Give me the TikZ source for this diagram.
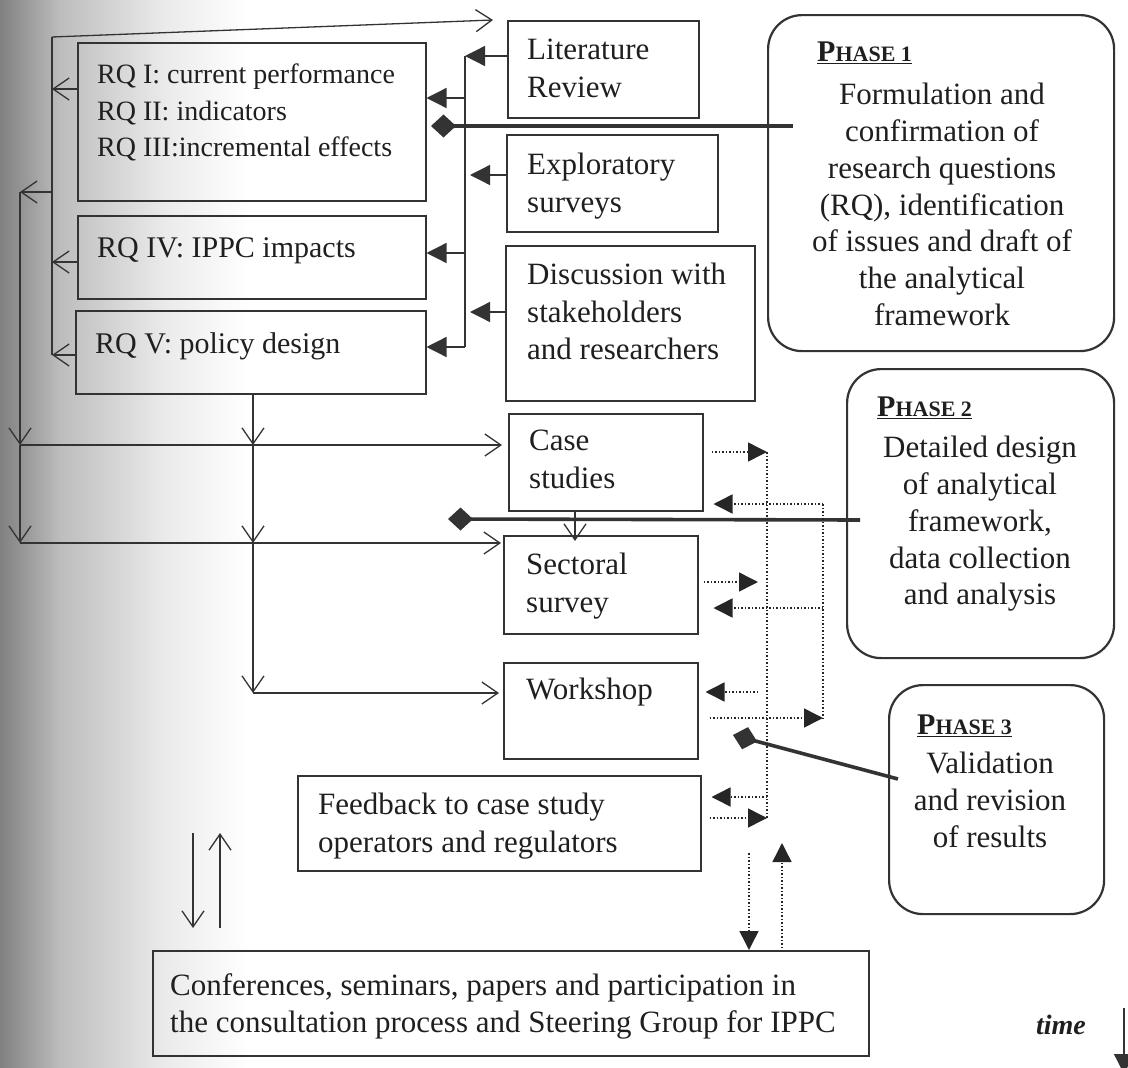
\documentclass[tikz,border=0pt]{standalone}
\usepackage{fontspec}
\setmainfont{Liberation Serif}
\usetikzlibrary{arrows.meta,calc}
\tikzset{
  ln/.style={draw=black!80, line width=1.3pt},
  box/.style={draw=black!80, line width=1.5pt, inner sep=0pt, anchor=north west},
  pbox/.style={box, rounded corners=34pt, line width=2.2pt},
  txt/.style={anchor=north west, inner sep=0pt, align=left, text=black!88, font=\fontsize{31}{37.5}\selectfont},
  ptxt/.style={anchor=north, inner sep=0pt, align=center, text=black!88, font=\fontsize{31}{36.8}\selectfont},
  phead/.style={anchor=north west, inner sep=0pt, text=black!88, font=\bfseries\fontsize{30}{30}\selectfont},
  opn/.style={ln, -{Straight Barb[length=16pt,width=22pt,line width=1.3pt]}},
  fil/.style={ln, -{Triangle[length=20pt,width=20pt]}},
  dot/.style={draw=black!85, line width=1.5pt, dotted},
  dotar/.style={dot, -{Triangle[length=19pt,width=19pt]}},
  phl/.style={draw=black!80, line width=3.6pt, {Diamond[length=25pt,width=23pt]}-}
}
\begin{document}
\begin{tikzpicture}[x=1pt,y=-1pt]
\useasboundingbox (0,0) rectangle (1128,1068);
% scanner shadow on the left
\shade[left color=black!50, right color=black!26] (0,0) rectangle (60,1068);
\shade[left color=black!26, right color=black!8] (59.5,0) rectangle (165,1068);
\shade[left color=black!8, right color=white] (164.5,0) rectangle (250,1068);

% ---------- boxes ----------
\node[box, minimum width=348pt, minimum height=158pt] (rq1) at (77,42) {};
\node[box, minimum width=348pt, minimum height=83pt] (rq4) at (77,215) {};
\node[box, minimum width=350pt, minimum height=83pt] (rq5) at (75,310) {};
\node[box, minimum width=191pt, minimum height=97pt] (lit) at (507,20) {};
\node[box, minimum width=211pt, minimum height=97pt] (expl) at (506,134) {};
\node[box, minimum width=249pt, minimum height=155pt] (disc) at (505,245) {};
\node[box, minimum width=194pt, minimum height=97pt] (case) at (508,413) {};
\node[box, minimum width=194pt, minimum height=98pt] (sect) at (503,535) {};
\node[box, minimum width=194pt, minimum height=96pt] (work) at (503,662) {};
\node[box, minimum width=403pt, minimum height=95pt] (feed) at (297,775) {};
\node[box, minimum width=716pt, minimum height=105pt] (conf) at (152,950) {};
\node[pbox, minimum width=346pt, minimum height=336pt] (ph1) at (767,14) {};
\node[pbox, minimum width=267pt, minimum height=289pt] (ph2) at (846,368) {};
\node[pbox, minimum width=215pt, minimum height=229pt] (ph3) at (888,684) {};

% ---------- texts ----------
\node[txt, font=\fontsize{28}{36.5}\selectfont] (rq1t) at (97,64) {RQ I: current performance\\RQ II: indicators\\RQ III:incremental effects};
\node[txt, font=\fontsize{30}{36}\selectfont] (rq4t) at (97,237) {RQ IV: IPPC impacts};
\node[txt, font=\fontsize{30}{36}\selectfont] (rq5t) at (95,332) {RQ V: policy design};
\node[txt] (litt) at (527,39) {Literature\\Review};
\node[txt] (explt) at (527,153) {Exploratory\\surveys};
\node[txt] (disct) at (527,263) {Discussion with\\stakeholders\\and researchers};
\node[txt] (caset) at (529,430) {Case\\studies};
\node[txt] (sectt) at (526,553) {Sectoral\\survey};
\node[txt] (workt) at (526,678) {Workshop};
\node[txt] (feedt) at (318,793) {Feedback to case study\\operators and regulators};
\node[txt] (conft) at (170,973) {Conferences, seminars, papers and participation in\\the consultation process and Steering Group for IPPC};

\node[phead] (ph1h) at (817,42) {\underline{P{\fontsize{22}{22}\selectfont HASE 1}}};
\node[ptxt] (ph1t) at (942,83) {Formulation and\\confirmation of\\research questions\\(RQ), identification\\of issues and draft of\\the analytical\\framework};
\node[phead] (ph2h) at (877,397) {\underline{P{\fontsize{22}{22}\selectfont HASE 2}}};
\node[ptxt] (ph2t) at (980,436) {Detailed design\\of analytical\\framework,\\data collection\\and analysis};
\node[phead] (ph3h) at (917,715) {\underline{P{\fontsize{22}{22}\selectfont HASE 3}}};
\node[ptxt] (ph3t) at (990,752) {Validation\\and revision\\of results};

\node[anchor=center, inner sep=0pt, text=black!88, font=\bfseries\itshape\fontsize{28}{28}\selectfont] (time) at (1061,1025) {time};

% ---------- left bracket (RQ outputs) ----------
\coordinate (bt) at (52,37);
\coordinate (b1) at (52,89);
\coordinate (b2) at (52,192);
\coordinate (b4) at (52,262);
\coordinate (b5) at (52,355);
\coordinate (ltip) at (493,20);
\draw[ln] (bt) -- (b5);
\draw[opn] (bt) -- (ltip);
\draw[opn] (rq1.west |- b1) -- (b1);
\draw[opn] (rq4.west |- b4) -- (b4);
\draw[opn] (rq5.west |- b5) -- (b5);
\coordinate (l1) at (20,192);
\coordinate (l2) at (20,445);
\coordinate (l3) at (20,543);
\draw[opn] (b2) -- (l1);
\draw[opn] (l1) -- (l2);
\draw[opn] (l2) -- (l3);
\draw[opn] (l2) -- ($(case.west |- l2)+(-6,0)$);
\draw[opn] (l3) -- ($(sect.west |- l3)+(-2,0)$);

% ---------- from RQ V down ----------
\coordinate (m0) at (253,393);
\coordinate (m1) at (253,445);
\coordinate (m2) at (253,543);
\coordinate (m3) at (253,693);
\draw[opn] (m0) -- (m1);
\draw[opn] (m1) -- (m2);
\draw[opn] (m2) -- (m3);
\draw[opn] (m3) -- ($(work.west |- m3)+(-4,0)$);

% ---------- inputs bus ----------
\coordinate (r0) at (465,56);
\coordinate (r1) at (465,98);
\coordinate (r4) at (465,253);
\coordinate (r5) at (465,347);
\coordinate (re) at (470,175);
\coordinate (rd) at (470,312);
\draw[ln] (r0) -- (r5);
\draw[fil] (lit.west |- r0) -- (r0);
\draw[fil] (expl.west |- re) -- (re);
\draw[fil] (disc.west |- rd) -- (rd);
\draw[fil] (r1) -- (rq1.east |- r1);
\draw[fil] (r4) -- (rq4.east |- r4);
\draw[fil] (r5) -- (rq5.east |- r5);

% ---------- case -> sectoral ----------
\coordinate (cs1) at (575,510);
\coordinate (cs2) at (575,541);
\draw[opn] (cs1) -- (cs2);

% ---------- phase connectors ----------
\coordinate (d1) at (431,126);
\coordinate (e1) at (793,126);
\draw[phl] (d1) -- (e1);
\coordinate (d2) at (448,519);
\coordinate (e2) at (860,520);
\draw[phl] (d2) -- (e2);
\coordinate (d3) at (733,735);
\coordinate (e3) at (898,779);
\draw[phl] (d3) -- (e3);

% ---------- dotted feedback loops ----------
\coordinate (i0) at (767,452);
\coordinate (i9) at (767,818);
\coordinate (o0) at (823,504);
\coordinate (o9) at (823,718);
\draw[dot] (i0) -- (i9);
\draw[dot] (o0) -- (o9);
\draw[dotar] ($(case.east |- i0)+(8,0)$) -- (i0);
\draw[dotar] (o0) -- ($(case.east |- o0)+(10,0)$);
\coordinate (s1) at (758,582);
\coordinate (s2) at (823,608);
\draw[dotar] ($(sect.east |- s1)+(5,0)$) -- (s1);
\draw[dotar] (s2) -- ($(sect.east |- s2)+(15,0)$);
\coordinate (w1) at (758,692);
\draw[dotar] (w1) -- ($(work.east |- w1)+(7,0)$);
\draw[dotar] ($(work.east |- o9)+(11,0)$) -- (o9);
\coordinate (f1) at (767,797);
\draw[dotar] (f1) -- ($(feed.east |- f1)+(10,0)$);
\draw[dotar] ($(feed.east |- i9)+(8,0)$) -- (i9);

% ---------- to/from conferences ----------
\coordinate (v1) at (749,853);
\coordinate (v2) at (782,843);
\draw[dotar] (v1) -- (conf.north -| v1);
\draw[dotar] ($(conf.north -| v2)+(0,-2)$) -- (v2);
\coordinate (a1) at (193,833);
\coordinate (a2) at (193,928);
\coordinate (a3) at (220,928);
\coordinate (a4) at (220,833);
\draw[opn] (a1) -- (a2);
\draw[opn] (a3) -- (a4);

% ---------- time arrow ----------
\begin{scope}
\clip (0,0) rectangle (1128,1068);
\coordinate (t0) at (1124,1008);
\coordinate (t1) at (1124,1074);
\draw[fil] (t0) -- (t1);
\end{scope}
\end{tikzpicture}
\end{document}
